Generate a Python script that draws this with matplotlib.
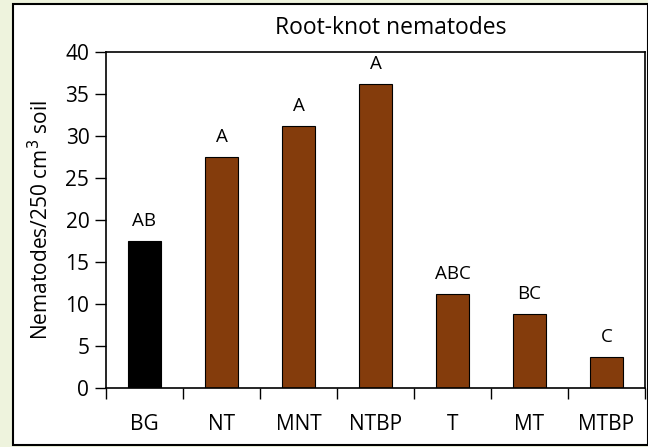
import matplotlib
matplotlib.use("Agg")
import matplotlib.pyplot as plt
from matplotlib.patches import Rectangle
import numpy as np

categories = ["BG", "NT", "MNT", "NTBP", "T", "MT", "MTBP"]
values = [17.5, 27.5, 31.2, 36.2, 11.2, 8.8, 3.7]
letters = ["AB", "A", "A", "A", "ABC", "BC", "C"]
colors = ["#000000"] + ["#843C0C"] * 6

plt.rcParams["font.family"] = ["Open Sans", "DejaVu Sans"]

W, H = 648, 447
fig = plt.figure(figsize=(W / 100, H / 100), dpi=100)
fig.patch.set_facecolor("#eef3dd")

# white panel with black frame
fig.patches.append(Rectangle((13 / W, 1 - 445 / H), (W - 13) / W, (445 - 4) / H,
                             transform=fig.transFigure, facecolor="white",
                             edgecolor="black", linewidth=1.5, zorder=-5))

ax = fig.add_axes([106 / W, 1 - 388 / H, (645 - 106) / W, (388 - 52) / H])
ax.set_zorder(2)
x = np.arange(len(categories))
ax.bar(x, values, width=0.42, color=colors, edgecolor="black", linewidth=0.8)
for xi, v, lab in zip(x, values, letters):
    ax.text(xi, v + 2.4, lab, ha="center", va="center", fontsize=13.5)

ax.set_xlim(-0.5, len(categories) - 0.5)
ax.set_ylim(0, 40)
ax.set_yticks(range(0, 41, 5))
ax.tick_params(axis="y", labelsize=15, length=8, width=1, direction="out", pad=4)
ax.set_xticks(x)
ax.set_xticklabels(categories, fontsize=15)
ax.tick_params(axis="x", length=0, pad=19)
ax.set_xticks(np.arange(-0.5, len(categories), 1), minor=True)
ax.tick_params(axis="x", which="minor", length=8, width=1, direction="out")
for s in ax.spines.values():
    s.set_linewidth(1.2)

ax.set_ylabel("Nematodes/250 cm$^3$ soil", fontsize=15, labelpad=9)
fig.text(391 / W, 1 - 28 / H, "Root-knot nematodes", ha="center", va="center", fontsize=16.5)

fig.savefig("out.png", dpi=100, facecolor=fig.get_facecolor())
